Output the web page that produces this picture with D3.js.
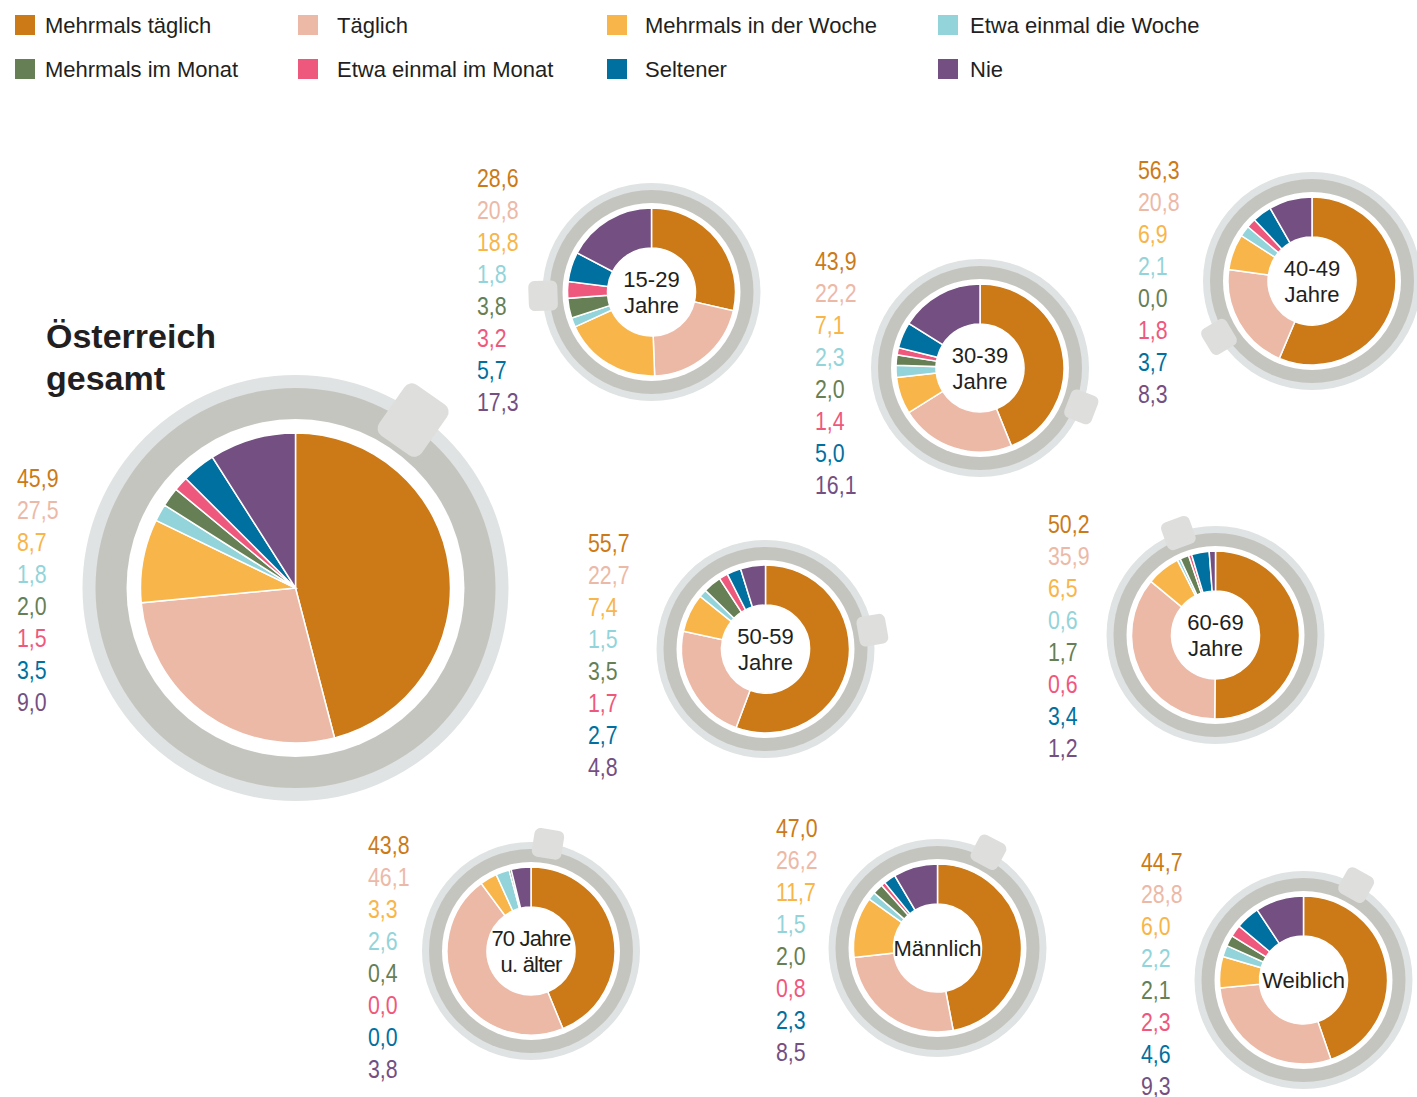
<!DOCTYPE html>
<html>
<head>
<meta charset="utf-8">
<script src="https://cdn.jsdelivr.net/npm/d3@7"></script>
<style>
  body { margin: 0; background: #fff; }
  text { font-family: "Liberation Sans", Arial, sans-serif; }
</style>
</head>
<body>
<svg id="chart" width="1417" height="1097"></svg>
<script>
// Kategorien (Reihenfolge im Kreis, im Uhrzeigersinn ab 12 Uhr)
const categories = ['Mehrmals täglich', 'Täglich', 'Mehrmals in der Woche', 'Etwa einmal die Woche',
  'Mehrmals im Monat', 'Etwa einmal im Monat', 'Seltener', 'Nie'];
const colors = ['#cc7a17', '#edb9a7', '#f8b54a', '#93d4da', '#667f55', '#ef587d', '#0070a0', '#744f82'];

// Werte in Prozent
const valuesGesamt   = [45.9, 27.5, 8.7, 1.8, 2.0, 1.5, 3.5, 9.0];
const values15_29    = [28.6, 20.8, 18.8, 1.8, 3.8, 3.2, 5.7, 17.3];
const values30_39    = [43.9, 22.2, 7.1, 2.3, 2.0, 1.4, 5.0, 16.1];
const values40_49    = [56.3, 20.8, 6.9, 2.1, 0.0, 1.8, 3.7, 8.3];
const values50_59    = [55.7, 22.7, 7.4, 1.5, 3.5, 1.7, 2.7, 4.8];
const values60_69    = [50.2, 35.9, 6.5, 0.6, 1.7, 0.6, 3.4, 1.2];
const values70plus   = [43.8, 46.1, 3.3, 2.6, 0.4, 0.0, 0.0, 3.8];
const valuesMaennl   = [47.0, 26.2, 11.7, 1.5, 2.0, 0.8, 2.3, 8.5];
const valuesWeibl    = [44.7, 28.8, 6.0, 2.2, 2.1, 2.3, 4.6, 9.3];

// Layout der Tassen (Mitte, Henkelwinkel, Position der Zahlenspalte)
const cups = [
  { values: valuesGesamt, big: true,  cx: 295.5, cy: 588, handle: 35,  lx: 17,   ly: 478, label: [] },
  { values: values15_29,  big: false, cx: 651.5, cy: 292, handle: 268, lx: 477,  ly: 178, label: ['15-29', 'Jahre'] },
  { values: values30_39,  big: false, cx: 980,   cy: 368, handle: 111, lx: 815,  ly: 261, label: ['30-39', 'Jahre'] },
  { values: values40_49,  big: false, cx: 1312,  cy: 281, handle: 239, lx: 1138, ly: 170, label: ['40-49', 'Jahre'] },
  { values: values50_59,  big: false, cx: 765.5, cy: 649, handle: 80,  lx: 588,  ly: 543, label: ['50-59', 'Jahre'] },
  { values: values60_69,  big: false, cx: 1215.5,cy: 635, handle: 340, lx: 1048, ly: 524, label: ['60-69', 'Jahre'] },
  { values: values70plus, big: false, cx: 531,   cy: 951, handle: 9,   lx: 368,  ly: 845, label: ['70 Jahre', 'u. älter'], tight: true },
  { values: valuesMaennl, big: false, cx: 937.5, cy: 948, handle: 28,  lx: 776,  ly: 828, label: ['Männlich'] },
  { values: valuesWeibl,  big: false, cx: 1303.5,cy: 980, handle: 29,  lx: 1141, ly: 862, label: ['Weiblich'] }
];

const sizes = {
  big:   { light: 213, dark: 200, white: 169, outer: 155, inner: 0,  hw: 52, hIn: 174, hOut: 236, hr: 9 },
  small: { light: 109, dark: 102, white: 89,  outer: 84,  inner: 44, hw: 30, hIn: 94,  hOut: 123, hr: 6 }
};

const fmt = d3.formatLocale({ decimal: ',', thousands: '.', grouping: [3], currency: ['', '€'] }).format('.1f');
const color = d3.scaleOrdinal().domain(categories).range(colors);
const pie = d3.pie().sort(null).value(d => d.v);

const svg = d3.select('#chart');

// ========== LEGENDE ==========
const legendBoxX = [15, 298, 607, 938];
const legendTextX = [45, 337, 645, 970];
const legendY = [15, 59];
categories.forEach((c, i) => {
  const col = i % 4, row = Math.floor(i / 4);
  svg.append('rect')
    .attr('x', legendBoxX[col]).attr('y', legendY[row])
    .attr('width', 20).attr('height', 20).attr('fill', color(c));
  svg.append('text')
    .attr('x', legendTextX[col]).attr('y', legendY[row] + 10).attr('dy', '0.35em')
    .attr('font-size', 22).attr('fill', '#231f20').text(c);
});

// Titel
svg.append('text').attr('x', 46).attr('y', 336).attr('dy', '0.35em')
  .attr('font-size', 34).attr('font-weight', 'bold').attr('fill', '#231f20').text('Österreich');
svg.append('text').attr('x', 46).attr('y', 378).attr('dy', '0.35em')
  .attr('font-size', 34).attr('font-weight', 'bold').attr('fill', '#231f20').text('gesamt');

// ========== TASSEN ==========
cups.forEach(cup => {
  const s = cup.big ? sizes.big : sizes.small;
  const g = svg.append('g').attr('transform', `translate(${cup.cx},${cup.cy})`);

  g.append('circle').attr('r', s.light).attr('fill', '#e0e3e3');
  g.append('circle').attr('r', s.dark).attr('fill', '#c5c5c0');

  // Henkel
  g.append('g').attr('transform', `rotate(${cup.handle})`)
    .append('rect')
    .attr('x', -s.hw / 2).attr('y', -s.hOut)
    .attr('width', s.hw).attr('height', s.hOut - s.hIn)
    .attr('rx', s.hr).attr('ry', s.hr)
    .attr('fill', '#dededc');

  g.append('circle').attr('r', s.white).attr('fill', '#fff');

  const arc = d3.arc().innerRadius(s.inner).outerRadius(s.outer);
  const data = cup.values.map((v, i) => ({ v, c: categories[i] }));
  g.selectAll('path.slice')
    .data(pie(data))
    .join('path')
    .attr('class', 'slice')
    .attr('d', arc)
    .attr('fill', d => color(d.data.c))
    .attr('stroke', '#fff')
    .attr('stroke-width', d => d.data.v > 0 ? 1.5 : 0);

  // Beschriftung in der Mitte
  const n = cup.label.length;
  cup.label.forEach((t, i) => {
    g.append('text')
      .attr('x', 0).attr('y', (i - (n - 1) / 2) * 26)
      .attr('dy', '0.35em').attr('text-anchor', 'middle')
      .attr('font-size', 22).attr('fill', '#231f20')
      .attr('letter-spacing', cup.tight ? -0.8 : 0)
      .text(t);
  });

  // Zahlenspalte
  cup.values.forEach((v, i) => {
    svg.append('text')
      .attr('transform', `translate(${cup.lx},${cup.ly + i * 32}) scale(0.82,1)`)
      .attr('dy', '0.35em')
      .attr('font-size', 26)
      .attr('fill', colors[i])
      .text(fmt(v));
  });
});
</script>
</body>
</html>
